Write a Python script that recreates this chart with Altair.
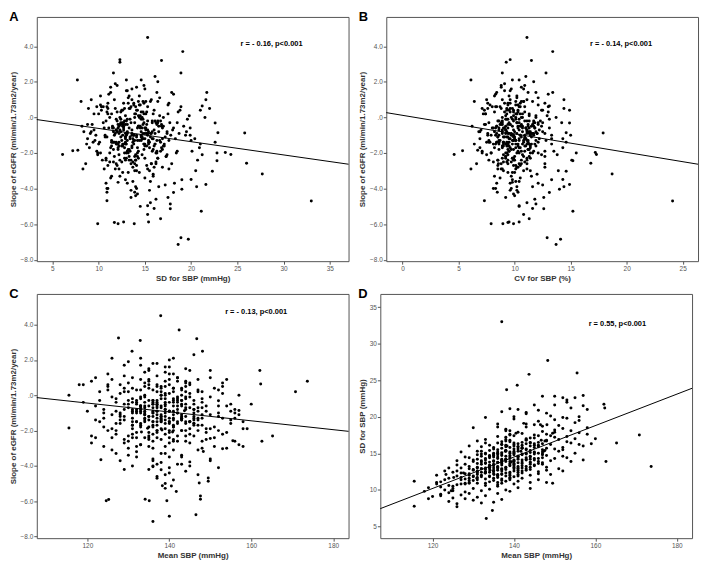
import altair as alt
import pandas as pd

# ---- data (one row per patient) ----
mean_sbp = [
    138,131,145,127,142,135,150,140,133,147,
    124,139,136,152,129,143,137,134,148,141,
    126,144,132,138,155,130,140,146,135,122,
    139,143,128,137,151,133,141,136,149,125,
    142,134,138,145,131,153,127,140,136,144,
    139,129,147,135,141,132,156,137,123,143,
    146,134,140,130,150,137,142,128,138,148,
    133,139,145,126,154,136,141,131,144,135,
    120,138,147,133,140,129,152,137,143,134,
    142,127,139,146,132,157,136,141,124,149,
    135,144,130,138,140,133,151,128,145,137,
    142,131,148,139,134,125,143,136,155,140,
    132,146,138,129,141,135,150,122,144,137,
    139,133,147,128,142,136,153,131,140,145,
    126,138,143,134,149,137,130,141,158,135,
    144,132,139,147,123,136,142,133,151,138,
    129,145,137,140,134,148,127,143,139,131,
    146,136,141,154,133,138,125,144,135,140,
    132,149,137,128,142,139,145,134,152,121,
    138,143,130,147,136,140,133,156,141,127,
    135,139,144,131,148,137,126,142,134,150,
    140,133,146,129,138,143,136,153,124,141,
    137,142,130,145,135,139,128,147,133,140,
    136,141,132,138,144,134,139,131,143,137,
    135,142,128,145,139,132,150,136,141,127,
    118,119,121,122,123,157,158,160,155,153,
    124,125,126,128,129,130,131,132,137,135,
    133,130,137,141,143,147,148,150,152,146,
    156,157,154,155,158,153,156,151,154,159,
    127,126,129,124,131,146,149,144,148,152,
    137.9,142.4,146.7,127.6,132.9,148.1,130.9,126.0,137.0,173.7,
    170.8,165.2,162.6,162.1,162.3,155.5,148.3,143.7,140.8,138.2,
    115.5,115.5,133.2,134.7,136.0,140.0,146.5,139.0,124.6,125.2,
    135.1,134.1,139.4,147.6,141.7,147.6,147.3,138.3,149.5,140.5,
    149.5,152,157,150,153,145,143,140,136,138,
    131,129,123.3,147,144,152,137,133,141,146,
    129,125,136,144,139,122,150,121,119,
    134,138,141,136,144,132,139,146,135,142,
    137,131,143,140,133,145,138,136,141,134,
    139,143,130,137,148,135,140,132,144,138,
    136,142,133,139,146,131,141,137,145,134,
    140,135,143,138,132,147,136,141,129,144,
    137,142,134,139,145,133,140,136,148,131,
    138,143,135,140,134,146,137,141,132,144,
    139,136,142,130,145,138,133,140,147,135,
    141,137,143,134,139,131,144,136,142,138,
    133,140,146,135,137,143,139,132,141,136,
]
sd_sbp = [
    14.2,12.5,16.1,10.8,13.0,15.6,17.2,11.8,13.7,14.9,
    9.6,16.8,12.1,18.4,13.2,15.0,10.9,14.6,12.7,17.9,
    11.9,13.8,9.9,15.4,19.2,14.1,12.9,16.5,11.3,10.4,
    13.4,18.6,12.2,16.2,15.3,10.6,14.4,13.1,20.1,8.9,
    15.8,12.4,11.2,17.5,14.8,16.6,9.3,13.6,17.3,12.0,
    14.7,11.0,18.0,13.3,10.3,15.9,17.8,12.6,11.4,16.3,
    13.9,10.1,15.1,12.8,19.6,14.0,11.6,13.5,16.9,15.7,
    12.3,9.8,14.3,10.7,21.2,15.2,13.2,11.7,17.1,14.5,
    9.1,12.8,15.5,16.4,10.8,12.0,14.6,13.8,19.0,11.1,
    14.1,13.0,17.6,12.2,14.9,16.0,10.5,15.9,11.6,17.4,
    12.5,14.6,10.2,18.3,13.5,15.0,18.8,11.5,13.3,14.9,
    12.3,13.6,16.7,11.4,16.1,12.4,14.2,9.5,17.0,15.3,
    11.8,19.4,13.9,14.4,12.1,13.0,15.6,11.1,16.4,12.9,
    15.8,14.3,13.7,9.7,17.7,11.9,19.8,12.6,14.0,15.1,
    13.4,10.0,15.6,13.1,14.0,16.6,11.3,12.7,21.0,14.7,
    11.0,14.0,12.0,18.7,10.0,15.5,13.6,9.2,16.9,14.2,
    12.9,15.2,11.5,16.0,13.8,13.1,11.7,17.0,14.5,15.3,
    12.5,14.8,11.2,18.1,12.8,17.2,10.5,15.4,11.6,13.3,
    13.5,16.2,15.7,10.9,14.8,12.2,18.9,11.9,15.8,12.0,
    13.0,16.8,13.9,14.4,10.7,17.4,14.1,19.5,12.4,11.4,
    15.0,11.7,13.5,12.1,17.6,14.2,12.6,16.1,13.3,14.3,
    12.6,16.9,15.0,11.6,15.9,12.9,13.7,17.3,10.6,14.6,
    13.4,15.7,11.8,16.3,12.7,18.1,14.5,14.8,10.9,16.4,
    14.3,13.0,12.4,15.3,12.8,14.7,13.6,13.1,14.9,12.2,
    13.9,16.5,10.8,14.1,17.5,12.9,18.2,11.0,15.6,12.3,
    9.8,8.8,10.8,9.4,12.6,21.5,18.5,17.0,22.6,22.0,
    8.4,9.9,8.1,8.8,9.5,8.6,9.0,8.2,8.7,8.3,
    19.9,18.5,20.7,21.0,20.4,22.8,20.5,21.6,19.9,20.9,
    16.2,14.1,13.9,15.0,17.6,14.4,20.0,12.9,16.4,16.3,
    15.2,14.0,16.0,13.0,16.7,11.4,12.1,10.2,11.0,12.6,
    15.3,19.1,16.8,12.3,12.3,18.9,11.6,7.7,33.0,13.2,
    17.5,16.4,13.9,21.7,21.2,26.0,27.7,25.8,24.3,23.7,
    11.2,7.75,6.1,7.2,18.6,19.7,18.9,21.1,9.9,11.7,
    12.1,12.7,13.85,16.7,15.3,15.4,15.3,16.0,17.75,17.75,
    10.9,22.6,22.9,22.8,22.3,21.6,20.6,20.0,19.0,18.1,
    10.9,10.9,12.1,13.5,14.2,15.5,16.2,13.0,14.6,16.1,
    11.3,10.2,12.0,13.1,15.0,9.2,17.9,11.0,10.3,
    12.9,14.6,15.3,13.2,16.0,12.0,13.9,15.9,14.0,12.6,
    15.1,11.4,14.1,16.2,13.6,13.4,11.9,16.4,13.7,14.4,
    12.4,15.5,12.7,14.0,16.8,12.2,14.8,13.8,14.5,13.1,
    15.0,13.3,12.5,16.6,14.3,13.0,12.9,13.6,17.1,11.8,
    15.6,13.5,12.7,15.4,14.6,15.2,11.7,14.2,12.2,16.5,
    12.8,14.9,15.4,11.6,15.8,12.4,13.9,14.5,14.7,14.2,
    16.1,13.2,12.6,15.0,13.4,17.4,11.3,16.3,12.9,13.7,
    14.3,13.8,15.7,11.9,14.9,12.3,14.9,13.1,16.3,15.8,
    11.9,14.7,16.9,13.1,15.2,12.3,15.1,12.9,13.8,16.7,
    11.5,14.1,13.6,14.8,12.1,14.4,13.3,15.3,15.9,12.7,
]
cv_sbp = [
    10.3,9.5,11.1,8.5,9.2,11.6,11.5,8.4,10.3,10.1,
    7.7,12.1,8.9,12.1,10.2,10.5,8.0,10.9,8.6,12.7,
    9.4,9.6,7.5,11.2,12.4,10.8,9.2,11.3,8.4,8.5,
    9.6,13.0,9.5,11.8,10.1,8.0,10.2,9.6,13.5,7.1,
    11.1,9.3,8.1,12.1,11.3,10.8,7.3,9.7,12.7,8.3,
    10.6,8.5,12.2,9.9,7.3,12.0,11.4,9.2,9.3,11.4,
    9.5,7.5,10.8,9.8,13.1,10.2,8.2,10.5,12.2,10.6,
    9.2,7.1,9.9,8.5,13.8,11.2,9.4,8.9,11.9,10.7,
    7.6,9.3,10.5,12.3,7.7,9.3,9.6,10.1,13.3,8.3,
    9.9,10.2,12.7,8.4,11.3,10.2,7.7,11.3,9.4,11.7,
    9.3,10.1,7.8,13.3,9.6,11.3,12.5,9.0,9.2,10.9,
    8.7,10.4,11.3,8.2,12.0,9.9,9.9,7.0,11.0,10.9,
    8.9,13.3,10.1,11.2,8.6,9.6,10.4,9.1,11.4,9.4,
    11.4,10.8,9.3,7.6,12.5,8.8,12.9,9.6,10.0,10.4,
    10.6,7.2,10.9,9.8,9.4,12.1,8.7,9.0,13.3,10.9,
    7.6,10.6,8.6,12.7,8.1,11.4,9.6,6.9,11.2,10.3,
    10.0,10.5,8.4,11.4,10.3,8.9,9.2,11.9,10.4,11.7,
    8.6,10.9,7.9,11.8,9.6,12.5,8.4,10.7,8.6,9.5,
    10.2,10.9,11.5,8.5,10.4,8.8,13.0,8.9,10.4,9.9,
    9.4,11.7,10.7,9.8,7.9,12.4,10.6,12.5,8.8,9.0,
    11.1,8.4,9.4,9.2,11.9,10.4,10.0,11.3,9.9,9.5,
    9.0,12.7,10.3,9.0,11.5,9.0,10.1,11.3,8.5,10.4,
    9.8,11.1,9.1,11.2,9.4,13.0,11.3,10.1,8.2,11.7,
    10.5,9.2,9.4,11.1,8.9,11.0,9.8,10.0,10.4,8.9,
    10.3,11.6,8.4,9.7,12.6,9.8,12.1,8.1,11.1,9.7,
    8.3,7.4,8.9,7.7,10.2,13.7,11.7,10.6,14.6,14.4,
    6.8,7.9,6.4,6.9,7.4,6.6,6.9,6.2,6.4,6.1,
    15.0,14.2,15.1,14.9,14.3,15.5,13.9,14.4,13.1,14.3,
    10.4,9.0,9.0,9.7,11.1,9.4,12.8,8.5,10.6,10.3,
    12.0,11.1,12.4,10.5,12.7,7.8,8.1,7.1,7.4,8.3,
    11.1,13.4,11.5,9.6,9.25,12.8,8.9,6.1,24.1,7.6,
    10.2,9.9,8.55,13.4,13.1,16.8,18.7,17.9,17.3,17.2,
    9.7,6.7,4.6,5.35,13.7,14.1,12.9,15.2,7.9,9.4,
    8.95,9.5,9.9,11.3,10.8,10.4,10.4,11.6,11.9,12.6,
    7.3,14.9,14.6,15.2,14.6,14.9,14.4,14.3,14.0,13.1,
    8.3,8.45,9.8,9.2,9.9,10.2,11.8,9.8,10.4,11.0,
    8.8,8.2,8.8,9.1,10.8,7.5,11.9,9.1,8.7,
    9.6,10.6,10.9,9.7,11.1,9.1,10.0,10.9,10.4,8.9,
    11.0,8.7,9.9,11.6,10.2,9.2,8.6,12.1,9.7,10.7,
    8.9,10.8,9.8,10.2,11.4,9.0,10.6,10.5,10.1,9.5,
    11.0,9.4,9.4,11.9,9.8,9.9,9.1,9.9,11.8,8.8,
    11.1,10.0,8.9,11.2,11.1,10.3,8.6,10.1,9.5,11.5,
    9.3,10.5,11.5,8.3,10.9,9.3,9.9,10.7,9.9,10.8,
    11.7,9.2,9.3,10.7,10.0,11.9,8.2,11.6,9.8,9.5,
    10.3,10.1,11.1,9.2,10.3,8.9,11.2,9.4,11.1,11.7,
    8.4,10.7,11.8,9.8,10.9,9.4,10.5,9.5,9.7,12.1,
    8.6,10.1,9.3,11.0,8.8,10.1,9.6,11.6,11.3,9.3,
]
egfr_slope = [
    -0.6,0.4,-1.5,-0.2,-2.3,0.9,-1.1,-0.9,-2.8,0.2,
    -1.3,-0.4,-1.7,-2.0,1.1,-3.4,0.6,-1.0,-0.7,-2.6,
    -0.1,0.8,-2.1,-1.4,-0.5,-3.0,0.1,-0.8,1.4,-2.4,
    -1.2,0.3,-1.6,-0.3,-2.9,-0.6,1.2,-3.7,-1.9,0.5,
    -0.2,-1.1,-2.5,0.7,-0.9,-1.3,-0.4,1.6,-2.2,-1.5,
    0.0,-2.7,-0.7,-1.8,0.4,-3.2,-1.0,-0.5,0.2,-2.0,
    -0.3,-1.4,0.9,-2.3,-0.1,-3.9,-0.8,0.6,-1.2,-2.6,
    -0.7,-1.9,0.1,-1.1,-2.1,-0.4,-3.1,1.0,-1.6,-0.6,
    -0.9,0.5,-1.7,-0.2,-2.4,-0.8,0.3,-1.3,-3.5,1.3,
    -1.0,-2.0,0.8,-0.5,-1.5,-2.8,-0.3,0.2,-1.8,-0.9,
    -2.5,-0.1,0.7,-1.2,-4.1,-0.6,0.4,-1.4,-2.2,1.8,
    -0.4,-1.7,-0.2,-3.3,-0.9,0.3,-1.3,-0.7,-1.6,0.6,
    -2.9,-1.0,0.0,-0.5,-1.8,1.5,-3.6,-0.6,-2.3,-1.1,
    -0.8,0.9,-1.4,-1.0,-0.3,-2.6,0.1,-0.4,-4.4,-0.7,
    -1.9,0.2,-1.1,-0.1,-2.1,1.1,-3.4,-0.6,-1.5,-1.2,
    0.5,-2.4,-0.2,-0.9,-1.5,-3.0,1.0,-0.8,-1.8,0.4,
    -1.2,-2.7,-0.5,-1.6,0.7,-0.4,-2.2,0.0,-5.0,-1.0,
    -1.3,0.3,-2.0,-0.6,-1.7,-3.8,0.6,-0.8,-1.4,1.2,
    -0.3,-2.5,-0.9,-1.1,-0.1,-2.9,0.6,-0.7,-1.2,-2.7,
    -1.5,-0.5,0.2,-3.1,-1.0,-2.1,1.7,-0.8,-0.3,-1.6,
    -2.3,-1.4,-2.6,-1.5,-1.3,-2.0,-3.1,-1.5,-2.4,-1.9,
    -1.5,-2.8,-1.6,-2.5,-3.3,-1.4,-3.6,-2.2,-2.9,-1.3,
    0.5,1.0,1.9,1.4,0.8,1.3,0.1,0.9,0.3,2.0,
    -0.5,-0.9,-0.4,-0.7,-0.2,-0.6,-1.0,-0.8,-0.3,-0.9,
    -4.2,-3.9,-3.7,-4.0,-4.5,-3.5,-3.7,-4.0,-4.8,-3.3,
    0.6,-0.4,-2.3,-1.4,-0.3,0.0,-1.9,-0.5,-1.4,0.5,
    -0.8,-2.0,0.9,-1.2,0.2,-2.6,-1.7,-0.5,-1.5,-2.9,
    -1.0,-0.3,-2.4,0.4,-1.2,-2.0,-3.0,1.0,-0.6,-1.7,
    -2.6,-1.1,-3.0,-0.9,-2.9,0.7,-1.3,-2.4,0.9,-1.9,
    -0.9,-2.4,0.4,-1.0,-1.9,-1.4,-0.6,-2.0,0.2,-1.0,
    4.5,3.7,3.2,3.25,3.1,2.5,2.5,2.1,-4.7,0.8,
    0.2,-2.3,-2.6,1.4,0.64,-2.57,-3.18,-0.88,-2.08,-1.97,
    0.0,-1.85,-2.08,-1.87,-7.14,-6.85,-6.76,-5.27,-5.97,-5.9,
    -5.97,-5.88,-5.97,-5.7,-5.45,-5.88,-4.96,-5.12,-4.87,-5.13,
    -4.68,-0.31,-0.86,-2.44,-3.03,-3.77,-3.9,-3.49,-4.04,-4.22,
    -4.0,-4.2,-3.65,-4.5,-4.3,-4.1,-4.6,2.1,2.1,2.3,
    1.7,1.2,1.8,1.5,1.6,1.0,1.4,0.8,0.6,
    -0.4,-1.1,-0.2,-1.8,-0.7,0.3,-2.2,-1.2,0.6,-1.6,
    -0.6,-1.3,0.4,-2.0,-0.9,-0.1,-1.5,-0.3,-2.5,0.0,
    -0.8,-1.4,-0.5,0.2,-1.7,-2.1,-0.4,-1.0,0.7,-1.9,
    -1.2,-0.6,-1.6,0.1,-2.3,-0.2,-1.1,-0.7,-1.5,0.5,
    -0.9,-2.4,-0.3,-1.3,-0.8,0.3,-1.0,-1.7,-1.4,-0.5,
    -2.0,0.8,-1.5,-0.6,-1.9,-0.1,-1.3,-0.5,-1.1,-2.2,
    -0.2,-2.0,0.4,-1.5,-1.1,-0.8,-1.7,-0.4,-1.5,-1.2,
    -0.5,-1.5,-2.6,-0.7,-1.5,0.0,-1.8,-0.9,-1.3,-0.3,
    -1.4,-2.1,-0.6,-1.3,-1.6,-2.4,0.2,-0.9,-1.0,-1.4,
    -0.6,-2.7,-1.6,-1.2,-0.4,-1.3,0.5,-0.9,-1.8,-1.5,
]

panel_letters = ["A", "B", "C", "D"]
x_fields = ["sd", "cv", "mean", "mean"]
y_fields = ["slope", "slope", "slope", "sd"]
x_titles = ["SD for SBP (mmHg)", "CV for SBP (%)", "Mean SBP (mmHg)", "Mean SBP (mmHg)"]
y_titles = ["Slope of eGFR (ml/min/1.73m2/year)"] * 3 + ["SD for SBP (mmHg)"]
x_domains = [[3.31, 37.03], [-1.46, 26.37], [107.65, 183.75], [107.17, 183.75]]
y_domains = [[-8.08, 5.65], [-8.08, 5.65], [-8.09, 5.74], [3.4, 36.8]]
x_ticks = [[5, 10, 15, 20, 25, 30, 35], [0, 5, 10, 15, 20, 25],
           [120, 140, 160, 180], [120, 140, 160, 180]]
y_ticks = [[-8, -6, -4, -2, 0, 2, 4]] * 3 + [[5, 10, 15, 20, 25, 30, 35]]
fit_x = [[3.31, 37.03], [-1.46, 26.37], [107.65, 183.75], [107.17, 183.75]]
fit_y = [[-0.12, -2.63], [0.27, -2.63], [-0.13, -2.04], [7.44, 23.9]]
r_labels = ["r = - 0.16, p<0.001", "r = - 0.14, p<0.001",
            "r = - 0.13, p<0.001", "r = 0.55, p<0.001"]
r_label_x = [28.7, 19.5, 161.2, 165.4]
r_label_y = [4.1, 4.1, 4.73, 32.7]

df = pd.DataFrame({"mean": mean_sbp, "sd": sd_sbp, "cv": cv_sbp, "slope": egfr_slope})

FONT = "Liberation Sans"
slope_fmt = "datum.value == 0 ? '.0' : format(datum.value, '.1f')"


def panel(i):
    xf, yf = x_fields[i], y_fields[i]
    xs = alt.Scale(domain=x_domains[i], nice=False, zero=False)
    ys = alt.Scale(domain=y_domains[i], nice=False, zero=False)
    x_axis = alt.Axis(values=x_ticks[i], title=x_titles[i], labelOverlap=False)
    if yf == "slope":
        y_axis = alt.Axis(values=y_ticks[i], title=y_titles[i], labelExpr=slope_fmt,
                          labelOverlap=False)
    else:
        y_axis = alt.Axis(values=y_ticks[i], title=y_titles[i], labelOverlap=False)
    pts = alt.Chart(df).mark_circle(size=9, color="black", opacity=1).encode(
        x=alt.X(f"{xf}:Q", scale=xs, axis=x_axis),
        y=alt.Y(f"{yf}:Q", scale=ys, axis=y_axis),
    )
    fit_df = pd.DataFrame({xf: fit_x[i], yf: fit_y[i]})
    fit = alt.Chart(fit_df).mark_line(color="black", strokeWidth=1).encode(
        x=alt.X(f"{xf}:Q", scale=xs, axis=x_axis),
        y=alt.Y(f"{yf}:Q", scale=ys, axis=y_axis),
    )
    lab_df = pd.DataFrame({xf: [r_label_x[i]], yf: [r_label_y[i]], "t": [r_labels[i]]})
    lab = alt.Chart(lab_df).mark_text(font=FONT, fontSize=7.5, fontWeight="bold",
                                      color="black").encode(
        x=alt.X(f"{xf}:Q", scale=xs, axis=x_axis),
        y=alt.Y(f"{yf}:Q", scale=ys, axis=y_axis),
        text="t:N",
    )
    return alt.layer(pts, fit, lab).properties(
        width=314, height=246, title=alt.TitleParams(panel_letters[i])
    )


chart = alt.vconcat(
    alt.hconcat(panel(0), panel(1), spacing=6),
    alt.hconcat(panel(2), panel(3), spacing=6),
    spacing=4,
).properties(padding=0).configure_view(
    stroke="#555555", strokeWidth=1
).configure_axis(
    grid=False, domain=False, tickColor="#555555", tickSize=3,
    labelFont=FONT, labelFontSize=6.5, labelColor="#555555", labelPadding=1,
    labelOverlap=False,
    titleFont=FONT, titleFontSize=8, titleFontWeight="bold", titleColor="#333333",
    titlePadding=3,
).configure_title(
    font=FONT, fontSize=13, fontWeight="bold", anchor="start", frame="bounds",
    offset=-7, color="black",
)

chart.save("out.html", embed_options={"renderer": "svg", "actions": False})
